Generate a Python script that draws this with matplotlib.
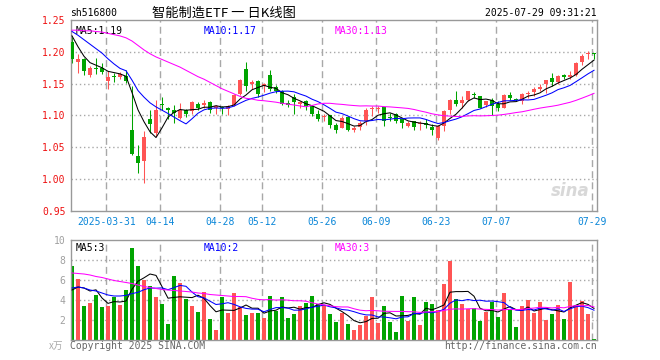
import numpy as np
import pandas as pd
import matplotlib
matplotlib.use('Agg')
import matplotlib.pyplot as plt

# daily candles 2025-03-21 .. 2025-07-29
opens = [1.215, 1.184, 1.189, 1.163, 1.175, 1.174, 1.154, 1.162, 1.160, 1.162,
         1.077, 1.037, 1.029, 1.095, 1.072, 1.118, 1.111, 1.109, 1.096, 1.109,
         1.107, 1.118, 1.117, 1.121, 1.112, 1.113, 1.110, 1.117, 1.134, 1.173,
         1.150, 1.154, 1.146, 1.164, 1.144, 1.139, 1.119, 1.129, 1.118, 1.123,
         1.115, 1.103, 1.097, 1.100, 1.085, 1.081, 1.097, 1.078, 1.082, 1.091,
         1.110, 1.110, 1.113, 1.098, 1.102, 1.094, 1.083, 1.091, 1.087, 1.089,
         1.082, 1.064, 1.083, 1.109, 1.125, 1.120, 1.125, 1.134, 1.130, 1.117,
         1.125, 1.118, 1.112, 1.132, 1.126, 1.123, 1.134, 1.137, 1.142, 1.150,
         1.159, 1.152, 1.163, 1.161, 1.163, 1.184, 1.196, 1.198]
highs = [1.223, 1.196, 1.191, 1.177, 1.190, 1.183, 1.170, 1.167, 1.168, 1.171,
         1.146, 1.054, 1.076, 1.108, 1.124, 1.129, 1.113, 1.117, 1.120, 1.110,
         1.122, 1.121, 1.125, 1.122, 1.117, 1.115, 1.117, 1.134, 1.157, 1.184,
         1.156, 1.155, 1.151, 1.172, 1.148, 1.140, 1.125, 1.133, 1.123, 1.125,
         1.117, 1.109, 1.103, 1.101, 1.089, 1.099, 1.099, 1.083, 1.091, 1.112,
         1.115, 1.115, 1.114, 1.104, 1.104, 1.096, 1.091, 1.092, 1.092, 1.095,
         1.086, 1.085, 1.108, 1.126, 1.138, 1.130, 1.139, 1.137, 1.131, 1.123,
         1.128, 1.122, 1.134, 1.137, 1.128, 1.135, 1.139, 1.144, 1.149, 1.156,
         1.167, 1.163, 1.165, 1.170, 1.184, 1.196, 1.201, 1.198]
lows = [1.182, 1.166, 1.163, 1.160, 1.165, 1.165, 1.141, 1.153, 1.158, 1.151,
        1.038, 1.009, 0.994, 1.072, 1.068, 1.109, 1.095, 1.089, 1.094, 1.097,
        1.103, 1.109, 1.112, 1.104, 1.103, 1.102, 1.100, 1.115, 1.132, 1.139,
        1.141, 1.129, 1.137, 1.138, 1.135, 1.117, 1.113, 1.103, 1.111, 1.109,
        1.099, 1.091, 1.091, 1.080, 1.073, 1.080, 1.075, 1.074, 1.077, 1.085,
        1.099, 1.104, 1.083, 1.092, 1.089, 1.081, 1.082, 1.078, 1.078, 1.080,
        1.070, 1.062, 1.075, 1.102, 1.115, 1.112, 1.122, 1.128, 1.111, 1.113,
        1.100, 1.107, 1.111, 1.125, 1.122, 1.118, 1.128, 1.131, 1.139, 1.136,
        1.147, 1.150, 1.157, 1.158, 1.162, 1.179, 1.188, 1.189]
closes = [1.188, 1.189, 1.170, 1.175, 1.173, 1.168, 1.161, 1.160, 1.165, 1.154,
          1.040, 1.025, 1.067, 1.086, 1.109, 1.116, 1.109, 1.104, 1.109, 1.103,
          1.121, 1.112, 1.120, 1.109, 1.115, 1.111, 1.115, 1.132, 1.156, 1.147,
          1.152, 1.133, 1.149, 1.141, 1.138, 1.118, 1.117, 1.121, 1.121, 1.115,
          1.103, 1.095, 1.099, 1.085, 1.078, 1.096, 1.078, 1.080, 1.089, 1.109,
          1.112, 1.112, 1.092, 1.096, 1.092, 1.089, 1.089, 1.082, 1.089, 1.085,
          1.077, 1.083, 1.107, 1.125, 1.118, 1.125, 1.138, 1.132, 1.112, 1.122,
          1.115, 1.111, 1.132, 1.127, 1.124, 1.133, 1.136, 1.141, 1.144, 1.155,
          1.153, 1.162, 1.161, 1.163, 1.183, 1.194, 1.198, 1.197]
# volume, unit 万
volumes = [7.4, 6.1, 3.4, 3.7, 4.5, 3.3, 3.4, 4.3, 3.5, 5.0,
           9.2, 7.4, 6.0, 5.4, 4.3, 3.6, 1.6, 6.4, 5.7, 4.1,
           3.4, 2.8, 4.8, 2.1, 1.0, 4.3, 2.7, 4.7, 3.3, 2.5,
           2.7, 2.7, 2.2, 4.4, 2.9, 4.3, 2.2, 2.6, 3.4, 3.7,
           4.4, 3.6, 3.5, 2.6, 1.8, 2.7, 1.6, 1.0, 1.5, 2.4,
           4.3, 1.7, 3.4, 1.8, 0.8, 4.4, 1.9, 4.3, 1.5, 3.8,
           3.6, 3.0, 5.6, 7.9, 4.1, 3.6, 3.1, 3.2, 1.9, 2.8,
           3.8, 2.3, 4.7, 3.1, 1.3, 3.4, 4.0, 2.7, 3.8, 2.0,
           2.6, 3.5, 2.1, 5.8, 3.4, 3.9, 2.6, 0.1]

# moving-average values before enough days are on screen
ma5_head = [1.225, 1.208, 1.193, 1.183]
ma10_head = [1.232, 1.226, 1.219, 1.212, 1.205, 1.198, 1.189, 1.181, 1.174]
ma30_head = [1.234, 1.234, 1.233, 1.233, 1.232, 1.231, 1.229, 1.227, 1.225, 1.222,
             1.217, 1.210, 1.203, 1.197, 1.192, 1.188, 1.184, 1.180, 1.176, 1.171,
             1.166, 1.161, 1.157, 1.152, 1.147, 1.142, 1.138, 1.134, 1.130]
vma5_head = [5.0, 5.3, 5.2, 4.9]
vma10_head = [5.2, 5.3, 5.2, 5.0, 4.9, 4.7, 4.5, 4.4, 4.4]
vma30_head = [6.7, 6.65, 6.6, 6.5, 6.35, 6.25, 6.1, 5.95, 5.85, 5.75,
              5.65, 5.5, 5.35, 5.25, 5.15, 5.05, 5.0, 4.95, 4.9, 4.85,
              4.8, 4.7, 4.65, 4.55, 4.5, 4.45, 4.4, 4.35, 4.35]

# date labels and the candle index they sit on
date_idx = [6, 15, 25, 32, 42, 51, 61, 71, 87]
date_labels = ['2025-03-31', '04-14', '04-28', '05-12', '05-26',
               '06-09', '06-23', '07-07', '07-29']
price_ticks = [0.95, 1.00, 1.05, 1.10, 1.15, 1.20, 1.25]
vol_ticks = [2, 4, 6, 8, 10]


def moving(values, n, head):
    m = pd.Series(values).rolling(n).mean().to_numpy()
    m[:n - 1] = head
    return m


o = np.array(opens)
h = np.array(highs)
l = np.array(lows)
c = np.array(closes)
v = np.array(volumes)
x = np.arange(len(c))

RED = '#ff5454'
GREEN = '#00a400'
GRID = '#a8a8a8'
MONO = 'DejaVu Sans Mono'
CJK = ['Noto Sans CJK SC', 'DejaVu Sans']
LW = 0.75

W, H = 660, 360
fig = plt.figure(figsize=(6.6, 3.6), dpi=100)


def box(left, top, right, bottom):
    return [left / W, 1 - bottom / H, (right - left) / W, (bottom - top) / H]


ax = fig.add_axes(box(71, 20, 597, 211))
axv = fig.add_axes(box(71, 240, 597, 340))

up = c >= o
cols = np.where(up, RED, GREEN)
xmin, xmax = -0.17, 87.5
grid_x = [i - 0.28 for i in date_idx]

# price panel
for g in grid_x:
    ax.axvline(g, color=GRID, lw=1, ls=(0, (5, 3)), zorder=0)
for p in price_ticks[1:-1]:
    ax.axhline(p, color=GRID, lw=1, ls=(0, (1, 2)), zorder=0)

ax.vlines(x, l, h, colors=cols, lw=LW, zorder=2)
body = np.maximum(np.abs(c - o), 0.0016)
ax.bar(x, body, bottom=np.minimum(o, c), width=0.8, color=cols, lw=0, zorder=3)

ax.plot(x, moving(c, 5, ma5_head), color='black', lw=LW, zorder=4)
ax.plot(x, moving(c, 10, ma10_head), color='#0000ff', lw=LW, zorder=4)
ax.plot(x, moving(c, 30, ma30_head), color='#ff00ff', lw=LW, zorder=4)

ax.set_xlim(xmin, xmax)
ax.set_ylim(0.95, 1.25)
ax.set_yticks(price_ticks)
ax.set_yticklabels([f'{p:.2f}' for p in price_ticks], color='#ee1111',
                   fontsize=7, family=MONO)
ax.set_xticks(grid_x)
ax.set_xticklabels(date_labels, color='#0a86d8', fontsize=7, family=MONO)
ax.tick_params(length=0, pad=4)

ax.text(0.008, 0.97, 'MA5:1.19', transform=ax.transAxes, fontsize=7,
        family=MONO, color='black', va='top')
ax.text(0.253, 0.97, 'MA10:1.17', transform=ax.transAxes, fontsize=7,
        family=MONO, color='#0000ff', va='top')
ax.text(0.502, 0.97, 'MA30:1.13', transform=ax.transAxes, fontsize=7,
        family=MONO, color='#ff00ff', va='top')
ax.text(0.985, 0.06, 'sina', transform=ax.transAxes, fontsize=12,
        color='#d8d8d8', style='italic', weight='bold', ha='right', va='bottom')

# volume panel
for g in grid_x:
    axv.axvline(g, color=GRID, lw=1, ls=(0, (5, 3)), zorder=0)
for t in vol_ticks[:-1]:
    axv.axhline(t, color=GRID, lw=1, ls=(0, (1, 2)), zorder=0)

axv.bar(x, v, width=0.8, color=cols, lw=0, zorder=2)
axv.plot(x, moving(v, 5, vma5_head), color='black', lw=LW, zorder=4)
axv.plot(x, moving(v, 10, vma10_head), color='#0000ff', lw=LW, zorder=4)
axv.plot(x, moving(v, 30, vma30_head), color='#ff00ff', lw=LW, zorder=4)

axv.set_xlim(xmin, xmax)
axv.set_ylim(0, 10)
axv.set_xticks([])
axv.set_yticks(vol_ticks)
axv.set_yticklabels([str(t) for t in vol_ticks], color='#a0a0a0',
                    fontsize=7, family=MONO)
axv.tick_params(length=0, pad=4)

axv.text(0.008, 0.97, 'MA5:3', transform=axv.transAxes, fontsize=7,
         family=MONO, color='black', va='top')
axv.text(0.253, 0.97, 'MA10:2', transform=axv.transAxes, fontsize=7,
         family=MONO, color='#0000ff', va='top')
axv.text(0.502, 0.97, 'MA30:3', transform=axv.transAxes, fontsize=7,
         family=MONO, color='#ff00ff', va='top')

for a in (ax, axv):
    for s in a.spines.values():
        s.set_color('#999999')
        s.set_linewidth(1.0)

# header and footer texts
fig.text(70 / W, 1 - 13 / H, 'sh516800', fontsize=7, family=MONO, va='center')
fig.text(224 / W, 1 - 13 / H, '智能制造ETF 一 日K线图', fontsize=9.5,
         family=CJK, ha='center', va='center')
fig.text(597 / W, 1 - 13 / H, '2025-07-29 09:31:21', fontsize=7, family=MONO,
         ha='right', va='center')
fig.text(70 / W, 1 - 346 / H, 'Copyright 2025 SINA.COM', fontsize=7,
         family=MONO, color='#666666', va='center')
fig.text(597 / W, 1 - 346 / H, 'http://finance.sina.com.cn', fontsize=7,
         family=MONO, color='#666666', ha='right', va='center')
fig.text(63 / W, 1 - 346 / H, 'x万', fontsize=7, family=CJK,
         color='#aaaaaa', ha='right', va='center')

fig.savefig('out.png', dpi=100)
